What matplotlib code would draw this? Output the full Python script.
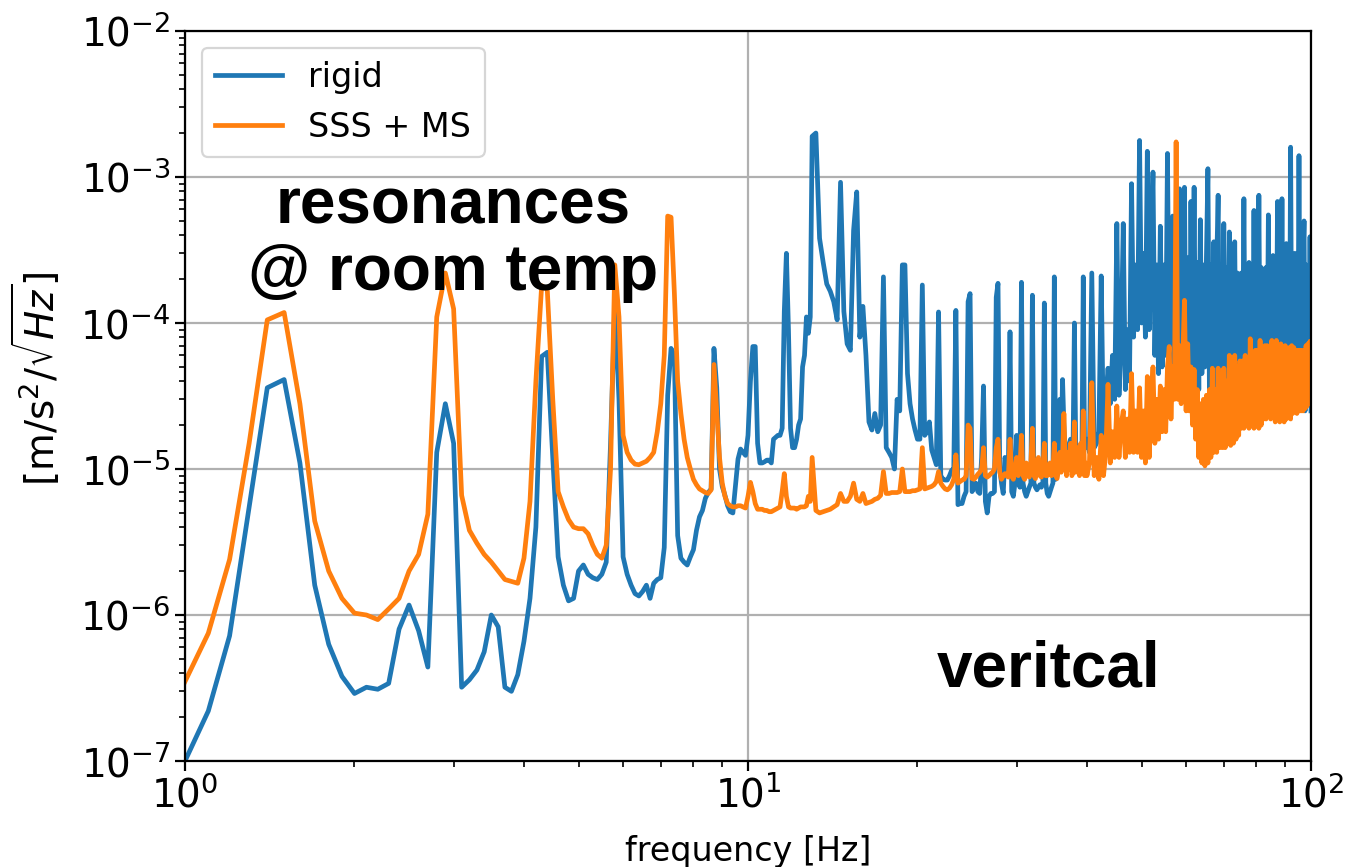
import numpy as np
import matplotlib
matplotlib.use("Agg")
import matplotlib.pyplot as plt

# ---------------- data (m/s^2/sqrt(Hz)) ----------------
# 1.0 - 12.9 Hz, step 0.1 Hz
rigid_lo = [
    1.0e-7, 2.2e-7, 7.2e-7, 5.5e-6, 3.6e-5, 4.1e-5, 1.1e-5, 1.6e-6, 6.3e-7, 3.8e-7,
    2.9e-7, 3.2e-7, 3.1e-7, 3.4e-7, 8.0e-7, 1.17e-6, 7.8e-7, 4.4e-7, 1.3e-5, 2.8e-5,
    1.5e-5, 3.2e-7, 3.6e-7, 4.2e-7, 5.6e-7, 1.0e-6, 8.3e-7, 3.2e-7, 3.0e-7, 3.9e-7,
    6.6e-7, 1.3e-6, 4.0e-6, 5.9e-5, 6.3e-5, 1.2e-5, 2.5e-6, 1.6e-6, 1.25e-6, 1.3e-6,
    2.0e-6, 2.2e-6, 1.9e-6, 1.8e-6, 1.75e-6, 1.9e-6, 2.3e-6, 1.5e-5, 1.33e-4, 3.0e-5,
    2.5e-6, 1.9e-6, 1.6e-6, 1.4e-6, 1.35e-6, 1.45e-6, 1.6e-6, 1.3e-6, 1.65e-6, 1.75e-6,
    1.8e-6, 2.9e-6, 3.2e-5, 6.7e-5, 6.0e-5, 3.5e-6, 2.45e-6, 2.3e-6, 2.2e-6, 2.5e-6,
    2.8e-6, 3.8e-6, 4.7e-6, 5.2e-6, 6.3e-6, 6.9e-6, 7.3e-6, 6.7e-5, 3.6e-5, 1.0e-5,
    7.6e-6, 6.6e-6, 5.6e-6, 5.1e-6, 5.0e-6, 7.6e-6, 1.17e-5, 1.37e-5, 1.3e-5, 1.24e-5,
    1.7e-5, 4.0e-5, 6.9e-5, 6.9e-5, 1.5e-5, 1.1e-5, 1.1e-5, 1.12e-5, 1.15e-5, 1.15e-5,
    1.1e-5, 1.6e-5, 1.65e-5, 1.7e-5, 1.7e-5, 1.9e-5, 1.2e-4, 3.0e-4, 9.0e-5, 1.9e-5,
    1.4e-5, 1.4e-5, 1.6e-5, 2.0e-5, 2.2e-5, 5.0e-5, 6.0e-5, 1.1e-4, 8.5e-5, 1.1e-4,
]
sss_lo = [
    3.5e-7, 7.5e-7, 2.4e-6, 1.5e-5, 1.05e-4, 1.18e-4, 2.8e-5, 4.4e-6, 2.0e-6, 1.3e-6,
    1.03e-6, 1.0e-6, 9.3e-7, 1.1e-6, 1.3e-6, 2.0e-6, 2.6e-6, 4.9e-6, 1.1e-4, 2.2e-4,
    1.25e-4, 6.6e-6, 3.8e-6, 3.1e-6, 2.6e-6, 2.3e-6, 2.0e-6, 1.75e-6, 1.7e-6, 1.65e-6,
    2.45e-6, 6.0e-6, 4.0e-5, 1.8e-4, 1.7e-4, 3.0e-5, 7.0e-6, 5.5e-6, 4.5e-6, 4.0e-6,
    3.9e-6, 3.9e-6, 3.6e-6, 3.0e-6, 2.6e-6, 2.45e-6, 3.0e-6, 1.0e-5, 2.5e-4, 1.1e-4,
    1.7e-5, 1.3e-5, 1.15e-5, 1.08e-5, 1.07e-5, 1.1e-5, 1.13e-5, 1.2e-5, 1.3e-5, 1.8e-5,
    2.8e-5, 6.0e-5, 5.4e-4, 5.3e-4, 1.6e-4, 4.0e-5, 2.4e-5, 1.6e-5, 1.2e-5, 1.0e-5,
    8.5e-6, 7.8e-6, 7.3e-6, 7.1e-6, 6.9e-6, 6.8e-6, 7.2e-6, 5.2e-5, 2.5e-5, 1.2e-5,
    8.0e-6, 6.5e-6, 5.8e-6, 5.6e-6, 5.5e-6, 5.5e-6, 5.6e-6, 5.6e-6, 5.5e-6, 5.4e-6,
    6.5e-6, 8.1e-6, 7.0e-6, 5.8e-6, 5.3e-6, 5.3e-6, 5.3e-6, 5.2e-6, 5.2e-6, 5.1e-6,
    5.1e-6, 5.2e-6, 5.3e-6, 5.4e-6, 5.5e-6, 7.0e-6, 9.3e-6, 6.5e-6, 5.5e-6, 5.4e-6,
    5.4e-6, 5.4e-6, 5.3e-6, 5.4e-6, 5.5e-6, 5.5e-6, 5.5e-6, 5.6e-6, 6.5e-6, 6.0e-6,
]

# 13.0 - 39.8 Hz, step 0.2 Hz
rigid_mid = [
    1.9e-3, 2.0e-3, 3.8e-4, 2.6e-4, 1.85e-4, 1.65e-4, 1.4e-4, 1.05e-4, 9.2e-4, 1.2e-4,
    7.2e-5, 6.5e-5, 4.3e-4, 7.9e-4, 8.0e-5, 1.3e-4, 6.0e-5, 2.1e-5, 1.85e-5, 2.4e-5,
    1.8e-5, 2.0e-5, 2.07e-4, 1.4e-5, 1.3e-5, 1.2e-5, 1.0e-5, 3.0e-5, 2.5e-5, 2.5e-4,
    2.5e-4, 4.5e-5, 2.8e-5, 2.2e-5, 1.85e-5, 1.6e-5, 1.6e-5, 1.82e-4, 1.7e-5, 1.8e-5,
    2.1e-5, 1.35e-5, 1.2e-5, 1.07e-5, 1.19e-4, 9.0e-6, 8.5e-6, 8.4e-6, 8.4e-6, 9.0e-6,
    9.8e-6, 1.0e-5, 1.22e-4, 5.7e-6, 5.8e-6, 5.8e-6, 6.5e-6, 7.0e-6, 1.4e-4, 1.59e-4,
    7.0e-6, 7.5e-6, 8.0e-6, 7.0e-6, 6.8e-6, 1.2e-5, 3.7e-5, 6.0e-6, 5.0e-6, 6.5e-6,
    6.8e-6, 6.8e-6, 7.0e-6, 1.5e-4, 1.87e-4, 1.0e-5, 8.0e-6, 6.8e-6, 1.2e-5, 1.1e-5,
    1.0e-5, 8.7e-5, 7.0e-6, 6.5e-6, 8.0e-6, 1.7e-5, 1.0e-5, 7.5e-6, 1.9e-4, 8.0e-6,
    7.0e-6, 6.5e-6, 7.0e-6, 7.5e-6, 8.0e-6, 1.55e-4, 8.0e-6, 7.5e-6, 7.2e-6, 7.5e-6,
    7.8e-6, 7.5e-6, 8.0e-6, 1.37e-4, 8.0e-6, 6.8e-6, 6.5e-6, 7.0e-6, 7.5e-6, 8.0e-6,
    2.07e-4, 8.5e-6, 9.0e-6, 1.0e-5, 3.0e-5, 1.5e-5, 4.1e-5, 2.0e-5, 1.2e-5, 1.3e-5,
    1.4e-5, 1.5e-5, 1.6e-5, 1.5e-5, 1.6e-5, 1.0e-4, 1.5e-5, 1.3e-5, 1.2e-5, 1.3e-5,
    1.4e-5, 1.5e-5, 2.07e-4, 1.5e-5, 1.4e-5,
]
sss_mid = [
    1.2e-5, 5.2e-6, 5.0e-6, 5.1e-6, 5.2e-6, 5.3e-6, 5.5e-6, 5.7e-6, 6.8e-6, 6.0e-6,
    6.0e-6, 6.5e-6, 8.0e-6, 6.2e-6, 6.0e-6, 6.8e-6, 5.8e-6, 5.9e-6, 6.0e-6, 6.2e-6,
    6.3e-6, 6.6e-6, 9.6e-6, 6.8e-6, 6.8e-6, 6.9e-6, 6.9e-6, 6.9e-6, 7.0e-6, 1.0e-5,
    7.0e-6, 7.0e-6, 7.0e-6, 7.1e-6, 7.1e-6, 7.2e-6, 7.3e-6, 1.4e-5, 7.3e-6, 7.4e-6,
    7.5e-6, 7.6e-6, 7.8e-6, 8.2e-6, 9.6e-6, 8.0e-6, 7.6e-6, 7.3e-6, 7.2e-6, 7.4e-6,
    7.8e-6, 8.5e-6, 1.25e-5, 8.0e-6, 8.2e-6, 8.4e-6, 8.5e-6, 9.0e-6, 2.0e-5, 1.9e-5,
    8.6e-6, 8.5e-6, 8.8e-6, 9.2e-6, 9.5e-6, 1.0e-5, 1.4e-5, 9.0e-6, 8.8e-6, 9.0e-6,
    9.3e-6, 9.5e-6, 1.0e-5, 1.4e-5, 1.6e-5, 9.5e-6, 8.5e-6, 9.0e-6, 9.3e-6, 9.0e-6,
    8.8e-6, 1.6e-5, 9.0e-6, 8.5e-6, 1.0e-5, 1.2e-5, 9.0e-6, 1.0e-5, 1.7e-5, 9.0e-6,
    8.5e-6, 1.1e-5, 9.0e-6, 8.8e-6, 1.1e-5, 1.9e-5, 9.0e-6, 8.6e-6, 1.1e-5, 1.2e-5,
    9.0e-6, 8.8e-6, 1.0e-5, 1.5e-5, 9.0e-6, 9.0e-6, 1.05e-5, 1.1e-5, 9.0e-6, 1.0e-5,
    1.5e-5, 9.0e-6, 8.6e-6, 1.0e-5, 1.3e-5, 9.5e-6, 1.2e-5, 2.4e-5, 1.1e-5, 9.0e-6,
    1.3e-5, 1.0e-5, 1.5e-5, 9.0e-6, 9.5e-6, 2.1e-5, 9.5e-6, 1.2e-5, 1.4e-5, 9.0e-6,
    1.5e-5, 1.0e-5, 2.5e-5, 9.0e-6, 1.1e-5,
]

# 40.0 - 100.0 Hz, step 0.4 Hz
rigid_hi = [
    1.6e-5, 1.3e-5, 2.2e-4, 1.4e-5, 1.5e-5, 1.8e-5, 2.1e-4, 1.6e-5, 3.0e-5, 4.9e-5,
    2.8e-5, 6.0e-5, 3.0e-5, 4.8e-4, 3.2e-5, 7.0e-5, 4.8e-4, 3.5e-5, 9.0e-5, 4.0e-5,
    9.0e-4, 8.0e-5, 2.5e-4, 9.0e-5, 1.78e-3, 1.0e-4, 3.0e-4, 8.0e-5, 1.5e-3, 9.0e-5,
    3.0e-4, 1.08e-3, 6.0e-5, 2.5e-4, 4.5e-5, 4.6e-4, 5.0e-5, 2.5e-4, 6.0e-5, 1.45e-3,
    5.0e-5, 2.8e-4, 5.4e-4, 4.0e-5, 3.0e-4, 5.0e-5, 8.3e-4, 3.0e-5, 2.8e-4, 8.5e-4,
    3.0e-5, 2.8e-4, 2.6e-5, 6.8e-4, 4.0e-5, 8.5e-4, 3.0e-5, 2.6e-4, 3.5e-5, 5.1e-4,
    4.5e-5, 2.5e-4, 5.0e-5, 2.8e-4, 1.14e-3, 3.5e-5, 2.5e-4, 4.0e-5, 3.6e-4, 3.5e-5,
    2.5e-4, 7.5e-4, 3.5e-5, 2.5e-4, 4.0e-5, 4.8e-4, 3.5e-5, 2.4e-4, 4.0e-5, 4.2e-4,
    3.5e-5, 2.4e-4, 4.0e-5, 3.6e-4, 3.5e-5, 2.2e-4, 1.7e-4, 4.0e-5, 2.2e-4, 4.5e-5,
    7.1e-4, 4.0e-5, 2.4e-4, 4.5e-5, 2.6e-4, 4.0e-5, 2.4e-4, 4.5e-5, 5.9e-4, 4.0e-5,
    2.5e-4, 4.5e-5, 7.5e-4, 4.0e-5, 2.4e-4, 2.2e-5, 1.9e-4, 4.0e-5, 2.4e-4, 4.5e-5,
    5.5e-4, 4.0e-5, 2.4e-4, 4.5e-5, 2.9e-4, 4.0e-5, 2.4e-4, 4.5e-5, 6.8e-4, 4.0e-5,
    2.5e-4, 4.5e-5, 7.1e-4, 4.0e-5, 2.5e-4, 4.5e-5, 3.5e-4, 4.0e-5, 2.5e-4, 4.5e-5,
    1.6e-3, 5.0e-5, 2.8e-4, 4.5e-5, 3.0e-4, 5.0e-5, 2.8e-4, 4.5e-5, 1.4e-3, 5.0e-5,
    2.8e-4, 4.5e-5, 2.6e-4, 5.0e-4, 2.5e-5, 2.5e-4, 4.0e-5, 2.2e-4, 3.0e-5, 3.9e-4,
    2.5e-5,
]
sss_hi = [
    9.0e-6, 1.1e-5, 3.9e-5, 9.0e-6, 1.2e-5, 8.5e-6, 1.7e-5, 9.0e-6, 1.3e-5, 3.8e-5,
    1.1e-5, 1.8e-5, 1.2e-5, 2.7e-5, 1.2e-5, 2.0e-5, 2.5e-5, 1.2e-5, 2.2e-5, 1.3e-5,
    4.5e-5, 1.3e-5, 2.5e-5, 1.3e-5, 3.6e-5, 1.2e-5, 2.5e-5, 1.1e-5, 4.3e-5, 1.2e-5,
    2.8e-5, 5.0e-5, 1.5e-5, 3.0e-5, 1.6e-5, 3.7e-5, 1.8e-5, 3.5e-5, 1.8e-5, 5.0e-5,
    6.9e-5, 2.2e-5, 5.0e-5, 3.0e-5, 1.74e-3, 3.0e-5, 7.0e-5, 2.8e-5, 6.0e-5, 1.43e-4,
    2.5e-5, 7.2e-5, 2.5e-5, 5.0e-5, 2.0e-5, 4.8e-5, 1.6e-5, 3.5e-5, 1.2e-5, 2.8e-5,
    1.1e-5, 3.0e-5, 1.05e-5, 3.2e-5, 1.1e-5, 3.5e-5, 1.2e-5, 4.9e-5, 1.3e-5, 3.5e-5,
    1.3e-5, 4.9e-5, 1.4e-5, 3.5e-5, 1.4e-5, 4.9e-5, 1.4e-5, 4.0e-5, 1.5e-5, 6.0e-5,
    1.45e-5, 5.5e-5, 1.5e-5, 6.0e-5, 1.6e-5, 5.0e-5, 1.7e-5, 5.5e-5, 1.9e-5, 5.5e-5,
    1.9e-5, 6.0e-5, 2.0e-5, 5.5e-5, 1.9e-5, 7.8e-5, 2.0e-5, 6.0e-5, 1.9e-5, 6.5e-5,
    2.0e-5, 6.5e-5, 1.9e-5, 7.6e-5, 2.0e-5, 6.5e-5, 2.2e-5, 7.0e-5, 2.2e-5, 7.0e-5,
    2.3e-5, 6.5e-5, 2.2e-5, 7.6e-5, 2.3e-5, 7.0e-5, 2.1e-5, 7.6e-5, 2.2e-5, 7.0e-5,
    2.1e-5, 7.2e-5, 2.2e-5, 6.5e-5, 2.1e-5, 7.0e-5, 2.2e-5, 6.5e-5, 2.3e-5, 6.8e-5,
    2.2e-5, 7.0e-5, 2.4e-5, 6.8e-5, 2.5e-5, 6.5e-5, 2.4e-5, 6.5e-5, 2.5e-5, 6.5e-5,
    2.5e-5, 6.5e-5, 2.5e-5, 6.0e-5, 2.6e-5, 7.0e-5, 2.7e-5, 7.2e-5, 2.8e-5, 7.5e-5,
    3.0e-5,
]

# frequency sampling of each block (start Hz, step Hz)
blocks = [(1.0, 0.1), (13.0, 0.2), (40.0, 0.4)]


def assemble(parts):
    freqs, vals = [], []
    for (start, step), part in zip(blocks, parts):
        freqs.append(start + step * np.arange(len(part)))
        vals.append(np.asarray(part))
    return np.concatenate(freqs), np.concatenate(vals)


f_rigid, v_rigid = assemble([rigid_lo, rigid_mid, rigid_hi])
f_sss, v_sss = assemble([sss_lo, sss_mid, sss_hi])

# ---------------- figure ----------------
plt.rcParams['font.family'] = ['DejaVu Sans']
plt.rcParams['mathtext.fontset'] = 'dejavusans'

fig = plt.figure(figsize=(13.59, 8.67), dpi=100)
ax = fig.add_axes([185 / 1359, 1 - 761 / 867, 1126 / 1359, 730 / 867])

ax.loglog(f_rigid, v_rigid, color='#1f77b4', lw=3.4, label='rigid')
ax.loglog(f_sss, v_sss, color='#ff7f0e', lw=3.4, label='SSS + MS')

ax.set_xlim(1, 100)
ax.set_ylim(1e-7, 1e-2)
ax.grid(True, which='major', color='#b0b0b0', lw=1.6)
ax.tick_params(which='major', labelsize=28, length=7, width=1.6)
ax.tick_params(which='minor', length=4, width=1.2)
for s in ax.spines.values():
    s.set_linewidth(1.6)

ax.set_xlabel('frequency [Hz]', fontsize=24, labelpad=14)
ax.set_ylabel(r'[m/s$^2$/$\sqrt{Hz}$]', fontsize=28)
ax.yaxis.set_label_coords(-0.108, 0.523)

leg = ax.legend(loc='upper left', fontsize=24, borderaxespad=0.5)
leg.get_frame().set_linewidth(1.6)

ax.text(0.238, 0.714, 'resonances\n@ room temp', transform=ax.transAxes,
        ha='center', va='center', fontsize=46, fontweight='bold',
        family=['Liberation Sans', 'DejaVu Sans'], linespacing=1.15)
ax.text(0.767, 0.126, 'veritcal', transform=ax.transAxes,
        ha='center', va='center', fontsize=46, fontweight='bold',
        family=['Liberation Sans', 'DejaVu Sans'])

fig.savefig('out.png', dpi=100)
